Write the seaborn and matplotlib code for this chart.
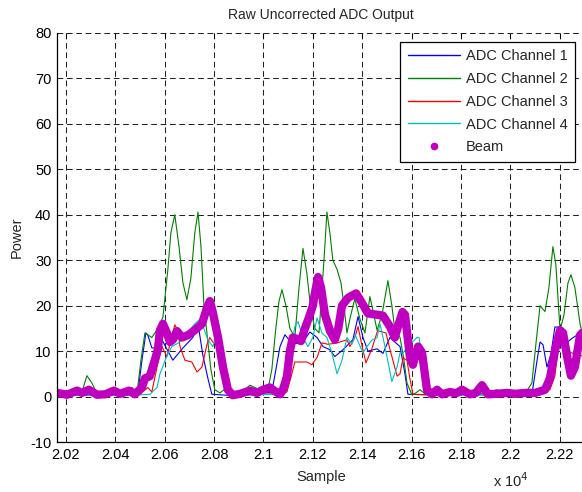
import matplotlib
matplotlib.use('Agg')
import matplotlib.pyplot as plt
import seaborn as sns
from matplotlib.lines import Line2D
from matplotlib.ticker import FuncFormatter, MultipleLocator

#%%
#  Data

ch1_x = [20164, 20250, 20350, 20450, 20492, 20508, 20524, 20532, 20548, 20581, 20589, 20633,
         20674, 20714, 20735, 20755, 20775, 20791, 20850, 20950, 21034, 21067, 21087, 21115,
         21156, 21188, 21217, 21241, 21269, 21289, 21322, 21362, 21383, 21403, 21423, 21460,
         21484, 21512, 21532, 21553, 21573, 21585, 21700, 21850, 22000, 22087, 22108, 22120,
         22132, 22148, 22164, 22180, 22201, 22221, 22249, 22269, 22290]
ch1_y = [0.4, 0.3, 0.4, 0.3, 1, 8, 14, 13.5, 10.7, 10.7, 12.5, 8,
         10.7, 13, 16, 9, 4, 0.5, 0.3, 0.4, 1, 11, 13.6, 11.7,
         11.7, 14.2, 13, 11, 10.3, 8.8, 10.3, 12.5, 17.6, 13, 10, 10.5,
         9.5, 13, 12, 11, 5, 0.5, 0.3, 0.4, 0.3, 0.5, 8, 12,
         11.4, 6.5, 9.3, 15.3, 15.3, 11.5, 12.8, 13.5, 13.5]

ch2_x = [20164, 20224, 20265, 20285, 20305, 20326, 20378, 20439, 20488, 20504, 20520, 20548,
         20573, 20593, 20613, 20625, 20641, 20658, 20674, 20690, 20706, 20722, 20735, 20747,
         20759, 20771, 20787, 20803, 20824, 20840, 20856, 20905, 20945, 20965, 20986, 21018,
         21034, 21050, 21063, 21075, 21091, 21107, 21127, 21144, 21160, 21176, 21192, 21208,
         21225, 21245, 21257, 21269, 21281, 21298, 21314, 21326, 21338, 21354, 21370, 21391,
         21411, 21431, 21447, 21460, 21480, 21504, 21520, 21532, 21553, 21569, 21581, 21601,
         21617, 21634, 21654, 21715, 21747, 21775, 21844, 21877, 21946, 21978, 22059, 22087,
         22104, 22120, 22140, 22156, 22172, 22184, 22201, 22217, 22233, 22245, 22261, 22282,
         22290]
ch2_y = [0.5, 0.6, 1.0, 4.6, 3.0, 0.7, 0.5, 0.6, 0.8, 8, 14, 13,
         15, 17.5, 28, 36, 40, 33, 25, 21.3, 26, 36, 40.6, 33,
         20, 14, 6, 1.5, 0.8, 1.5, 0.8, 0.6, 2.5, 2.0, 1.5, 1.5,
         6, 15, 21, 23.5, 20, 15, 13, 24, 32.6, 27, 19, 15,
         14, 30, 40.6, 36, 30, 28, 25, 20, 14, 18, 21.5, 17,
         14, 22, 18, 14.6, 18, 25.5, 20, 14.6, 13, 8, 3, 0.4,
         0.8, 1.5, 0.6, 0.7, 1.3, 0.6, 1.3, 0.6, 1.5, 0.6, 0.6, 3,
         12, 20, 18.7, 24, 33, 29, 14.6, 18, 25, 26.8, 24, 16,
         14]

ch3_x = [20164, 20300, 20440, 20467, 20500, 20532, 20548, 20569, 20589, 20609, 20641, 20654,
         20662, 20682, 20710, 20731, 20751, 20771, 20783, 20795, 20816, 20836, 20856, 20872,
         20950, 21050, 21095, 21115, 21127, 21176, 21196, 21217, 21237, 21261, 21298, 21338,
         21350, 21370, 21383, 21399, 21415, 21439, 21462, 21496, 21514, 21524, 21541, 21553,
         21565, 21581, 21593, 21605, 21700, 21850, 22000, 22120, 22160, 22180, 22192, 22201,
         22213, 22233, 22253, 22282, 22290]
ch3_y = [0.5, 0.6, 0.8, 2, 0.5, 2, 1, 6.5, 11, 8.8, 15.8, 14.5,
         11, 8, 7.6, 5.4, 6.5, 11.4, 13, 12, 11, 7, 2, 0.3,
         0.5, 0.6, 1, 5, 7.6, 7.6, 7, 8.6, 11.8, 11.5, 11.8, 12.5,
         11, 13, 15.4, 11.2, 7.4, 10.5, 14.5, 14, 10, 8, 4.5, 5,
         8.5, 8, 4, 0.5, 0.4, 0.5, 0.4, 0.5, 1.5, 4.5, 10, 13,
         12, 10, 9.5, 9, 9]

ch4_x = [20164, 20300, 20500, 20540, 20569, 20581, 20609, 20629, 20662, 20690, 20722, 20743,
         20755, 20775, 20795, 20812, 20824, 20844, 20856, 20872, 20950, 21050, 21079, 21107,
         21127, 21140, 21160, 21180, 21200, 21217, 21237, 21257, 21277, 21298, 21318, 21338,
         21358, 21372, 21403, 21419, 21439, 21460, 21472, 21492, 21520, 21541, 21553, 21565,
         21585, 21622, 21630, 21642, 21654, 21680, 21850, 22100, 22130, 22152, 22188, 22210,
         22233, 22249, 22282, 22290]
ch4_y = [0.3, 0.4, 0.4, 0.5, 2, 5, 9, 11, 12, 14, 16, 17,
         15.5, 12.5, 11, 13.5, 11, 7.4, 3, 0.5, 0.4, 0.5, 1, 8.8,
         15.4, 16.5, 13, 11, 13, 17.3, 14, 13, 9.6, 5, 8, 13,
         11.5, 13.5, 9.6, 11, 12.4, 13, 16, 11, 3.3, 6.5, 9.6, 9.6,
         11, 13, 13, 8, 1.5, 0.4, 0.4, 0.4, 1, 5, 11, 12,
         9, 4.8, 11, 11]

beam_x = [20164, 20185, 20205, 20245, 20265, 20293, 20326, 20360, 20394, 20420, 20455, 20479,
          20508, 20520, 20540, 20560, 20573, 20581, 20593, 20609, 20621, 20633, 20650, 20670,
          20694, 20722, 20751, 20771, 20783, 20795, 20816, 20836, 20856, 20876, 20905, 20945,
          20974, 20998, 21026, 21046, 21067, 21079, 21095, 21107, 21119, 21136, 21152, 21168,
          21188, 21200, 21208, 21221, 21233, 21249, 21269, 21289, 21303, 21318, 21342, 21375,
          21399, 21423, 21460, 21484, 21512, 21532, 21545, 21563, 21573, 21593, 21605, 21626,
          21642, 21662, 21682, 21703, 21723, 21755, 21780, 21804, 21836, 21860, 21885, 21909,
          21946, 21986, 22020, 22059, 22100, 22140, 22160, 22180, 22201, 22213, 22229, 22245,
          22261, 22282, 22290]
beam_y = [0.8, 0.6, 0.4, 1.3, 0.8, 1.5, 0.4, 0.5, 1.3, 0.6, 1.3, 0.5,
          2, 4, 4.5, 8, 10.5, 14.6, 16, 14, 12, 12.5, 14.4, 13,
          13.5, 14.6, 16, 19.5, 21, 18.5, 13, 6.5, 1.5, 0.3, 0.6, 1.3,
          0.8, 1.5, 2, 1.2, 0.5, 1.5, 4.4, 10, 13, 12.7, 12.2, 15,
          18, 20, 22.7, 26.3, 24, 18, 14.5, 12.5, 15, 20, 21.7, 22.7,
          20.6, 18.3, 18, 17.8, 15.4, 13, 15.5, 18.6, 18, 8.8, 7, 11,
          9.7, 1.5, 0.5, 1.5, 0.5, 1, 0.7, 1.5, 0.5, 0.8, 2.5, 0.5,
          0.6, 0.8, 0.6, 0.8, 0.8, 1.5, 4, 10, 14.6, 14, 9, 4.6,
          6.5, 13.5, 14]

labels = ['ADC Channel 1', 'ADC Channel 2', 'ADC Channel 3', 'ADC Channel 4', 'Beam']
colors = ['#0000ff', '#008000', '#ff0000', '#00bfbf', '#bf00bf']

#%%
#  Plot

sns.set_style('white')
plt.rcParams['font.family'] = ['Liberation Sans', 'DejaVu Sans']
plt.rcParams['font.size'] = 10
plt.rcParams['axes.unicode_minus'] = False

fig = plt.figure(figsize=(5.82, 4.92), dpi=100)
ax = fig.add_axes([57 / 582, 50 / 492, 528 / 582, 409 / 492])

series = [(ch1_x, ch1_y), (ch2_x, ch2_y), (ch3_x, ch3_y), (ch4_x, ch4_y)]
for (xs, ys), c in zip(series, colors[:4]):
    sns.lineplot(x=xs, y=ys, color=c, lw=0.8, ax=ax, estimator=None, sort=False)
sns.lineplot(x=beam_x, y=beam_y, color=colors[4], lw=6, ax=ax, estimator=None,
             sort=False)
ax.lines[-1].set_solid_capstyle('round')
ax.lines[-1].set_solid_joinstyle('round')

ax.set_xlim(20164, 22302)
ax.set_ylim(-10, 80)
ax.xaxis.set_major_locator(MultipleLocator(200))
ax.yaxis.set_major_locator(MultipleLocator(10))
ax.xaxis.set_major_formatter(FuncFormatter(lambda v, p: '%g' % round(v / 1e4, 4)))

ax.grid(True, color='#222222', linestyle=(0, (5.5, 3.5)), linewidth=0.75)
ax.tick_params(direction='in', length=3.6, width=0.75, top=True, right=False,
               labelsize=10.5, colors='black', pad=4)
for side in ['top', 'right']:
    ax.spines[side].set_visible(False)
for side in ['left', 'bottom']:
    ax.spines[side].set_color('black')
    ax.spines[side].set_linewidth(0.9)

ax.set_title('Raw Uncorrected ADC Output', fontsize=10, pad=10)
ax.set_xlabel('Sample', fontsize=10.5, labelpad=6)
ax.set_ylabel('Power', fontsize=10.5, labelpad=5)
fig.text(493 / 582, 1 - 481 / 492, 'x 10$^{4}$', fontsize=10.5, ha='left', va='center')

handles = [Line2D([], [], color=c, lw=1) for c in colors[:4]]
handles.append(Line2D([], [], color=colors[4], marker='o', markersize=4.5, linestyle='none'))
leg = ax.legend(handles, labels, loc='upper right', bbox_to_anchor=(575 / 582, 1 - 42 / 492),
                bbox_transform=fig.transFigure, borderaxespad=0, fancybox=False,
                framealpha=1, edgecolor='black', handlelength=3.6, handletextpad=0.4,
                labelspacing=0.6, borderpad=0.5, fontsize=10.5)
leg.get_frame().set_linewidth(0.9)

plt.savefig('out.png', dpi=100)
